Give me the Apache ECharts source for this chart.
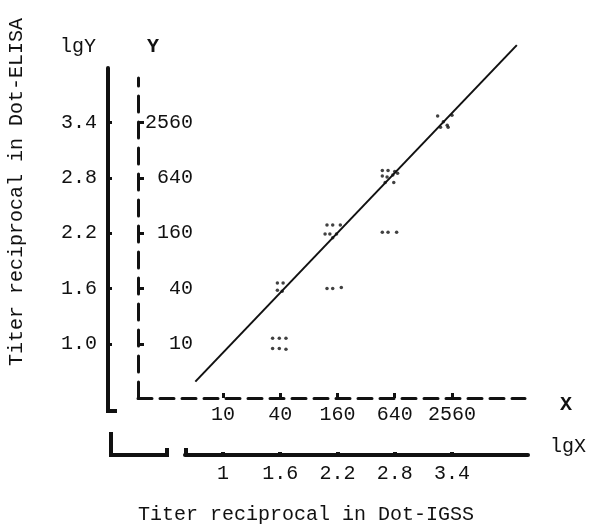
<!DOCTYPE html>
<html>
<head>
<meta charset="utf-8">
<script src="https://cdn.jsdelivr.net/npm/echarts@6/dist/echarts.min.js"></script>
<style>
  html, body { margin: 0; padding: 0; background: #fff; }
  #chart { width: 591px; height: 529px; }
</style>
</head>
<body>
<div id="chart"></div>
<script>
  // Graduations (log10 du titre) et titres correspondants
  const lgTicks = [1, 1.6, 2.2, 2.8, 3.4];
  const lgXLabels = ['1', '1.6', '2.2', '2.8', '3.4'];
  const lgYLabels = ['1.0', '1.6', '2.2', '2.8', '3.4'];
  const titerLabels = ['10', '40', '160', '640', '2560'];

  // Points : [lg titre Dot-IGSS, lg titre Dot-ELISA]
  const samples = [
    [1.57, 1.66], [1.63, 1.66], [1.57, 1.58], [1.62, 1.57],
    [1.52, 1.06], [1.59, 1.06], [1.66, 1.06], [1.52, 0.95], [1.59, 0.95], [1.66, 0.94],
    [2.09, 2.29], [2.15, 2.29], [2.23, 2.29], [2.07, 2.19], [2.12, 2.19], [2.19, 2.19], [2.15, 2.15],
    [2.09, 1.60], [2.15, 1.60], [2.24, 1.61],
    [2.67, 2.88], [2.73, 2.88], [2.80, 2.87], [2.67, 2.82], [2.72, 2.81], [2.78, 2.83],
    [2.83, 2.85], [2.70, 2.75], [2.79, 2.75],
    [2.67, 2.21], [2.73, 2.21], [2.82, 2.21],
    [3.25, 3.47], [3.40, 3.48], [3.31, 3.41], [3.35, 3.37], [3.28, 3.35], [3.36, 3.35]
  ];

  // Droite de régression
  const fitLine = [[0.71, 0.59], [4.08, 4.24]];

  // conversion pixel -> lg pour caler les axes entre eux
  const lgAtX = px => 1 + (px - 223) / 95.4;
  const lgAtY = py => 2.2 + (233.2 - py) / 92.2;

  const FONT = "'Liberation Mono', 'DejaVu Sans Mono', monospace";
  const FS = 20;
  const INK = '#111';

  function labelFrom(list) {
    return v => {
      const i = lgTicks.findIndex(t => Math.abs(t - v) < 1e-6);
      return i >= 0 ? list[i] : '';
    };
  }

  const chart = echarts.init(document.getElementById('chart'));

  const option = {
    animation: false,
    backgroundColor: '#fff',
    grid: [
      { left: 138, top: 78, width: 387, height: 320 },
      { left: 108, top: 68, width: 20, height: 343 },
      { left: 185, top: 440, width: 343, height: 15 }
    ],
    xAxis: [
      {
        type: 'value', gridIndex: 0,
        min: lgAtX(138), max: lgAtX(525),
        splitLine: { show: false },
        axisLine: { lineStyle: { color: INK, width: 3, type: [14, 8] } },
        axisTick: { inside: true, length: 5, customValues: lgTicks, lineStyle: { color: INK, width: 3 } },
        axisLabel: { customValues: lgTicks, formatter: labelFrom(titerLabels), margin: 7,
          fontFamily: FONT, fontSize: FS, color: INK }
      },
      { type: 'value', gridIndex: 1, show: false, min: 0, max: 1 },
      {
        type: 'value', gridIndex: 2,
        min: lgAtX(185), max: lgAtX(528),
        splitLine: { show: false },
        axisLine: { lineStyle: { color: INK, width: 4 } },
        axisTick: { inside: true, length: 3, customValues: lgTicks, lineStyle: { color: INK, width: 4 } },
        axisLabel: { customValues: lgTicks, formatter: labelFrom(lgXLabels), margin: 9,
          fontFamily: FONT, fontSize: FS, color: INK }
      }
    ],
    yAxis: [
      {
        type: 'value', gridIndex: 0,
        min: lgAtY(398), max: lgAtY(78),
        splitLine: { show: false },
        axisLine: { lineStyle: { color: INK, width: 3, type: [16, 10] } },
        axisTick: { inside: true, length: 6, customValues: lgTicks, lineStyle: { color: INK, width: 3 } },
        axisLabel: { inside: true, align: 'right', margin: 55, customValues: lgTicks,
          formatter: labelFrom(titerLabels), fontFamily: FONT, fontSize: FS, color: INK }
      },
      {
        type: 'value', gridIndex: 1,
        min: lgAtY(411), max: lgAtY(68),
        splitLine: { show: false },
        axisLine: { lineStyle: { color: INK, width: 4 } },
        axisTick: { inside: true, length: 4, customValues: lgTicks, lineStyle: { color: INK, width: 3 } },
        axisLabel: { customValues: lgTicks, formatter: labelFrom(lgYLabels), margin: 11,
          fontFamily: FONT, fontSize: FS, color: INK }
      },
      { type: 'value', gridIndex: 2, show: false, min: 0, max: 1 }
    ],
    series: [
      {
        type: 'line', xAxisIndex: 0, yAxisIndex: 0,
        data: fitLine, showSymbol: false, clip: false,
        lineStyle: { color: INK, width: 2 }
      },
      {
        type: 'scatter', xAxisIndex: 0, yAxisIndex: 0,
        data: samples, symbol: 'circle', symbolSize: 3.5,
        itemStyle: { color: INK }
      }
    ],
    graphic: [
      { type: 'text', x: 60, y: 47, style: { text: 'lgY', font: `${FS}px ${FONT}`, fill: INK, verticalAlign: 'middle' } },
      { type: 'text', x: 147, y: 47, style: { text: 'Y', font: `bold ${FS}px ${FONT}`, fill: INK, verticalAlign: 'middle' } },
      { type: 'text', x: 560, y: 405, style: { text: 'X', font: `bold ${FS}px ${FONT}`, fill: INK, verticalAlign: 'middle' } },
      { type: 'text', x: 550, y: 447, style: { text: 'lgX', font: `${FS}px ${FONT}`, fill: INK, verticalAlign: 'middle' } },
      { type: 'text', x: 17, y: 192, rotation: Math.PI / 2,
        style: { text: 'Titer reciprocal in Dot-ELISA', font: `${FS}px ${FONT}`, fill: INK, align: 'center', verticalAlign: 'middle' } },
      { type: 'text', x: 306, y: 515,
        style: { text: 'Titer reciprocal in Dot-IGSS', font: `${FS}px ${FONT}`, fill: INK, align: 'center', verticalAlign: 'middle' } },
      // crochets de coupure d'axe
      { type: 'polyline', shape: { points: [[108, 404], [108, 411], [117, 411]] },
        style: { stroke: INK, lineWidth: 4, fill: null } },
      { type: 'polyline', shape: { points: [[111, 432], [111, 455], [167, 455], [167, 448]] },
        style: { stroke: INK, lineWidth: 4, fill: null } },
      { type: 'polyline', shape: { points: [[186, 448], [186, 455]] },
        style: { stroke: INK, lineWidth: 4, fill: null } }
    ]
  };

  chart.setOption(option);
</script>
</body>
</html>
